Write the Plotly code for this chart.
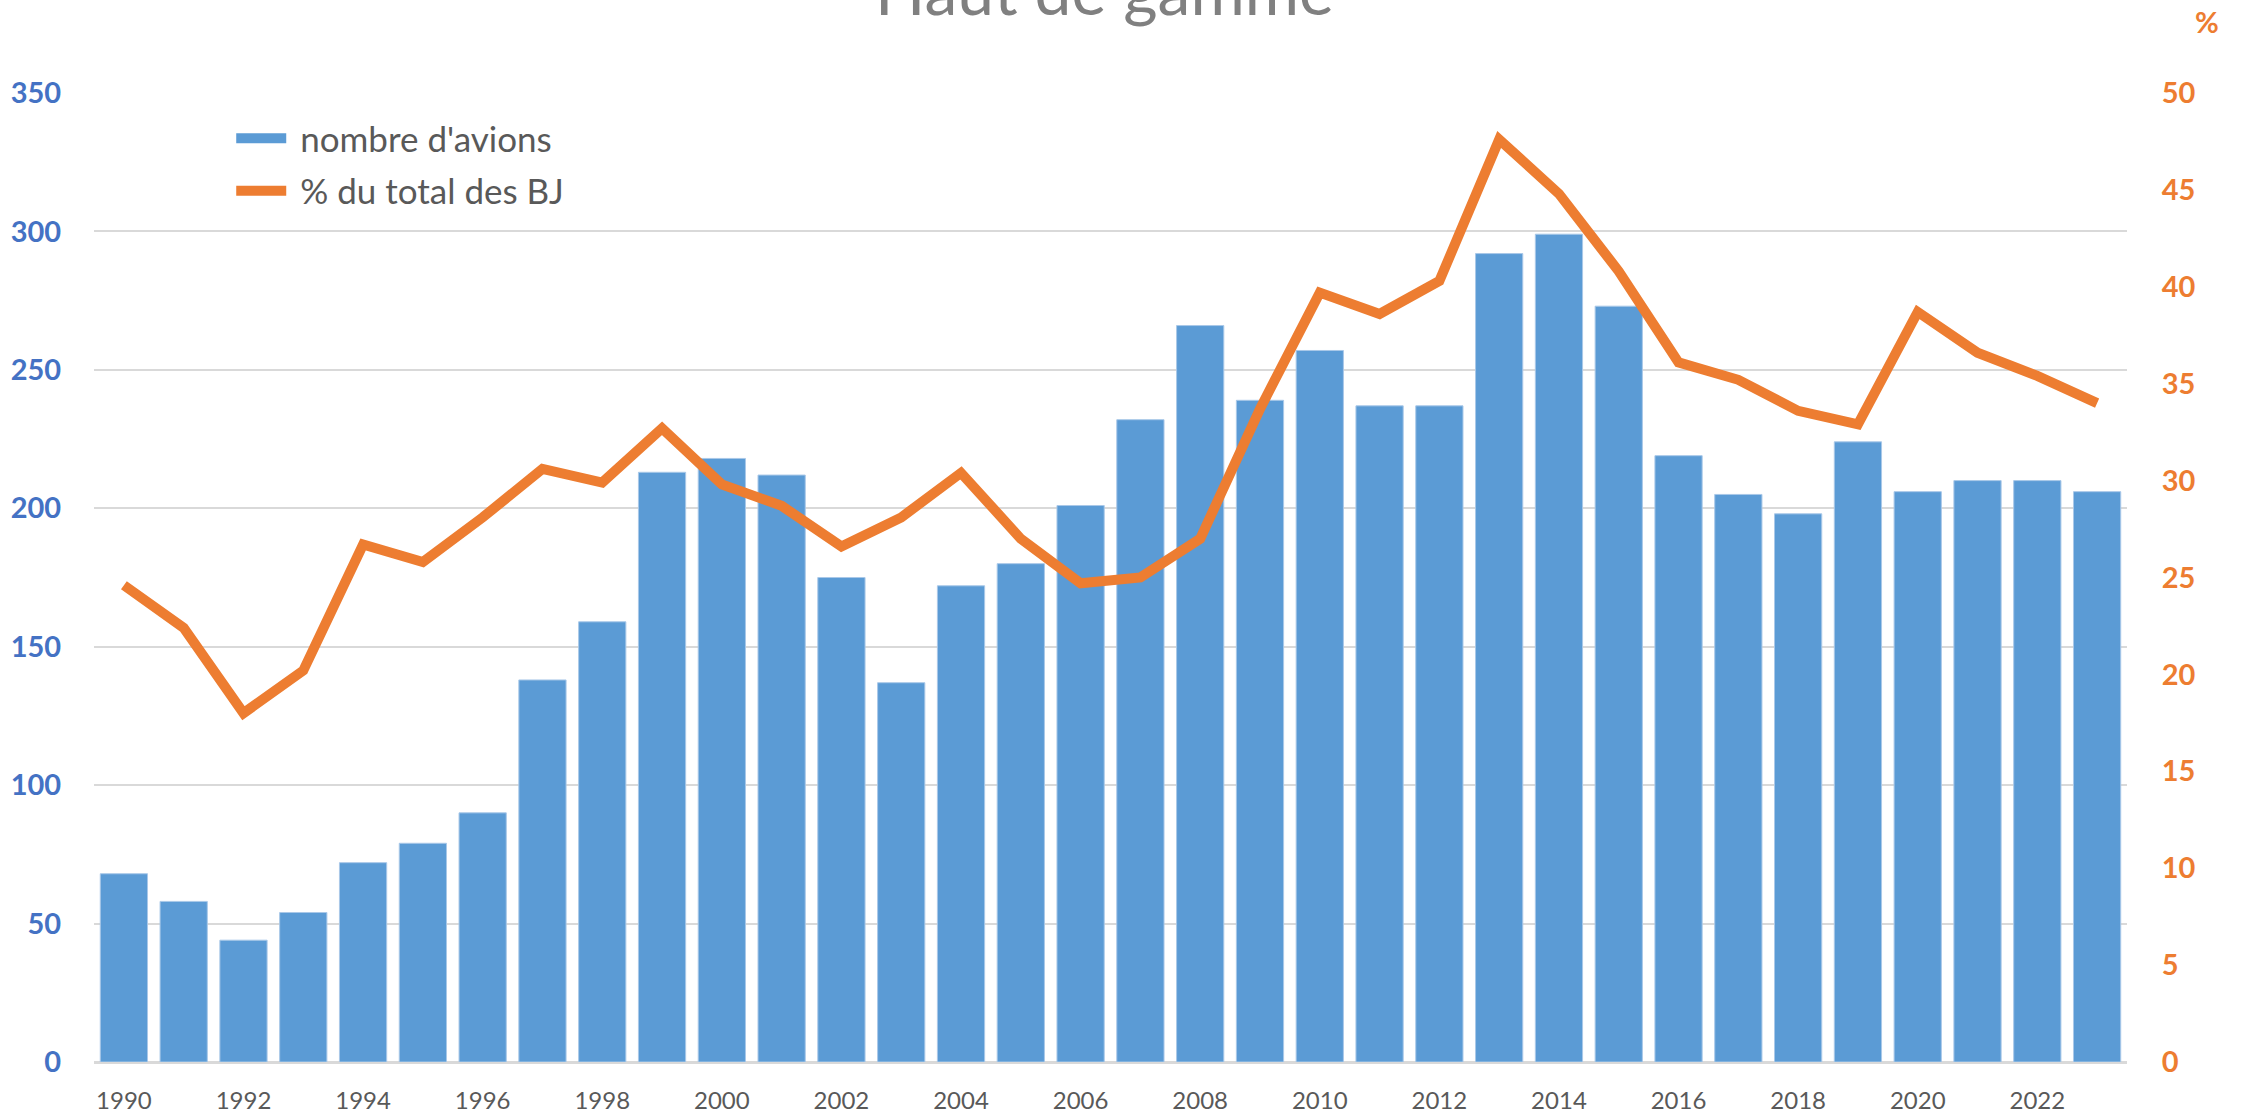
import plotly.graph_objects as go

years = list(range(1990, 2024))
avions = [68, 58, 44, 54, 72, 79, 90, 138, 159, 213, 218, 212, 175, 137, 172, 180, 201, 232,
          266, 239, 257, 237, 237, 292, 299, 273, 219, 205, 198, 224, 206, 210, 210, 206]
pct_bj = [24.6, 22.4, 18.0, 20.2, 26.7, 25.8, 28.1, 30.6, 29.9, 32.7, 29.8, 28.7, 26.6, 28.1,
          30.4, 27.0, 24.7, 25.0, 27.0, 33.7, 39.7, 38.6, 40.3, 47.6, 44.8, 40.8, 36.1, 35.2,
          33.6, 32.9, 38.7, 36.6, 35.4, 34.0]
left_ticks = [0, 50, 100, 150, 200, 250, 300, 350]
right_ticks = [0, 5, 10, 15, 20, 25, 30, 35, 40, 45, 50]
year_ticks = list(range(1990, 2024, 2))

FONT = "Lato, Carlito, 'Liberation Sans', sans-serif"
BLUE = "#5B9BD5"
ORANGE = "#ED7D31"
GREY = "#595959"

# Plot area in window pixels: x 94..2127, y 93..1062
W, H = 2246, 1116
L, T = 94, 93
R = W - 2127
B = H - 1062
PW = W - L - R
PH = H - T - B

fig = go.Figure()
fig.add_trace(go.Bar(
    x=years, y=avions, name="nombre d'avions", showlegend=False,
    marker=dict(color=BLUE, line=dict(color="#A9C8E8", width=1)),
))
# legend entry for the bars (wide rectangle swatch)
fig.add_trace(go.Scatter(
    x=[None], y=[None], name="\u00a0nombre d'avions", mode="lines", legendgroup="a",
    line=dict(color=BLUE, width=20),
))
fig.add_trace(go.Scatter(
    x=years, y=pct_bj, name="\u00a0% du total des BJ", yaxis="y2", mode="lines",
    legendgroup="b",
    line=dict(color=ORANGE, width=10, shape="linear"),
))

fig.update_layout(
    width=W, height=H,
    margin=dict(l=L, r=R, t=T, b=B, autoexpand=False),
    paper_bgcolor="white", plot_bgcolor="white",
    bargap=0.21,
    font=dict(family=FONT, color=GREY),
    showlegend=True,
    legend=dict(x=0.0675, y=1 - 16 / PH, xanchor="left", yanchor="top",
                font=dict(size=35, color=GREY, family=FONT),
                bgcolor="rgba(0,0,0,0)", traceorder="grouped", tracegroupgap=4,
                itemwidth=50),
    xaxis=dict(
        range=[1989.5, 2023.5], tickmode="array", tickvals=year_ticks,
        ticktext=[str(y) for y in year_ticks],
        tickfont=dict(size=24, color=GREY, family=FONT),
        showgrid=False, zeroline=False, showline=False,
        ticks="outside", ticklen=17, tickcolor="rgba(0,0,0,0)",
    ),
    yaxis=dict(
        range=[0, 350], tickmode="array", tickvals=left_ticks,
        tickfont=dict(size=29, color="#4472C4", family=FONT, weight="bold"),
        showgrid=True, gridcolor="#D9D9D9", gridwidth=2,
        zeroline=True, zerolinecolor="#D9D9D9", zerolinewidth=3,
        showline=False, ticks="outside", ticklen=26, tickcolor="rgba(0,0,0,0)",
    ),
    yaxis2=dict(
        range=[0, 50], tickmode="array", tickvals=right_ticks,
        overlaying="y", side="right",
        tickfont=dict(size=29, color=ORANGE, family=FONT, weight="bold"),
        showgrid=False, zeroline=False, showline=False,
        ticks="outside", ticklen=28, tickcolor="rgba(0,0,0,0)",
    ),
    annotations=[
        dict(text="Haut de gamme", xref="paper", yref="paper", x=0.497, y=1 + 62 / PH,
             xanchor="center", yanchor="bottom", showarrow=False,
             font=dict(size=66, color="#808080", family=FONT)),
        dict(text="%", xref="paper", yref="paper", x=1 + 66 / PW, y=1 + 71 / PH,
             xanchor="left", yanchor="middle", showarrow=False,
             font=dict(size=29, color=ORANGE, family=FONT, weight="bold")),
    ],
)

fig.write_html("out.html", config={"displayModeBar": False},
               post_script="document.body.style.margin='0';")
